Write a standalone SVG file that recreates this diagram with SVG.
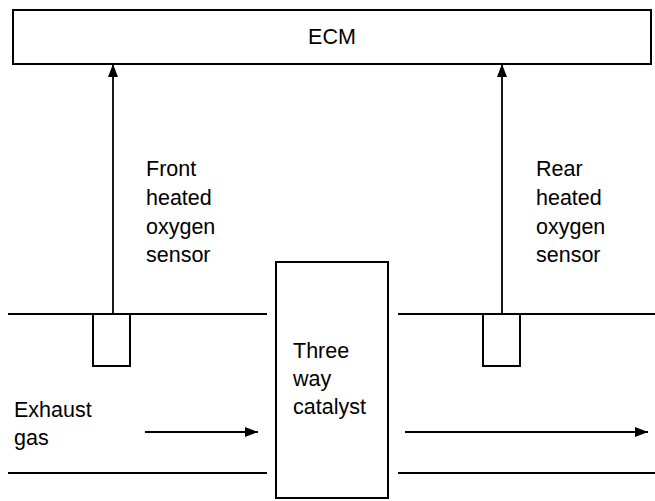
<svg xmlns="http://www.w3.org/2000/svg" width="655" height="501" viewBox="0 0 655 501">
<defs>
<marker id="ah" markerWidth="13" markerHeight="10" refX="13" refY="5" orient="auto" markerUnits="userSpaceOnUse">
<path d="M0,0 L13,5 L0,10 Z" fill="#000"/>
</marker>
<style>
.box{fill:#fff;stroke:#000;stroke-width:2}
.ln{stroke:#000;stroke-width:1.8;fill:none}
text{font-family:"Liberation Sans",Arial,sans-serif;font-size:21.5px;fill:#000}
</style>
</defs>
<rect width="655" height="501" fill="#fff"/>
<g id="pipe">
<line class="ln" x1="8" y1="314" x2="267" y2="314"/>
<line class="ln" x1="398" y1="314" x2="655" y2="314"/>
<line class="ln" x1="8" y1="473" x2="267" y2="473"/>
<line class="ln" x1="398" y1="473" x2="655" y2="473"/>
</g>
<g id="ecm">
<rect class="box" x="13" y="10" width="638" height="54"/>
<text x="332" y="44" text-anchor="middle">ECM</text>
</g>
<g id="front-sensor">
<rect class="box" x="93" y="314" width="37" height="52"/>
<text x="146" y="176">Front</text>
<text x="146" y="205">heated</text>
<text x="146" y="234">oxygen</text>
<text x="146" y="262">sensor</text>
</g>
<g id="rear-sensor">
<rect class="box" x="483" y="314" width="37" height="52"/>
<text x="536" y="176">Rear</text>
<text x="536" y="205">heated</text>
<text x="536" y="234">oxygen</text>
<text x="536" y="262">sensor</text>
</g>
<g id="catalyst">
<rect class="box" x="276" y="262" width="112" height="236"/>
<text x="293" y="358">Three</text>
<text x="293" y="386">way</text>
<text x="293" y="414">catalyst</text>
</g>
<g id="exhaust-label">
<text x="14" y="417">Exhaust</text>
<text x="14" y="445">gas</text>
</g>
<g id="connectors">
<line class="ln" x1="113" y1="314" x2="113" y2="64" marker-end="url(#ah)"/>
<line class="ln" x1="502" y1="314" x2="502" y2="64" marker-end="url(#ah)"/>
<line class="ln" x1="145" y1="432" x2="258" y2="432" marker-end="url(#ah)"/>
<line class="ln" x1="405" y1="432" x2="648" y2="432" marker-end="url(#ah)"/>
</g>
</svg>
